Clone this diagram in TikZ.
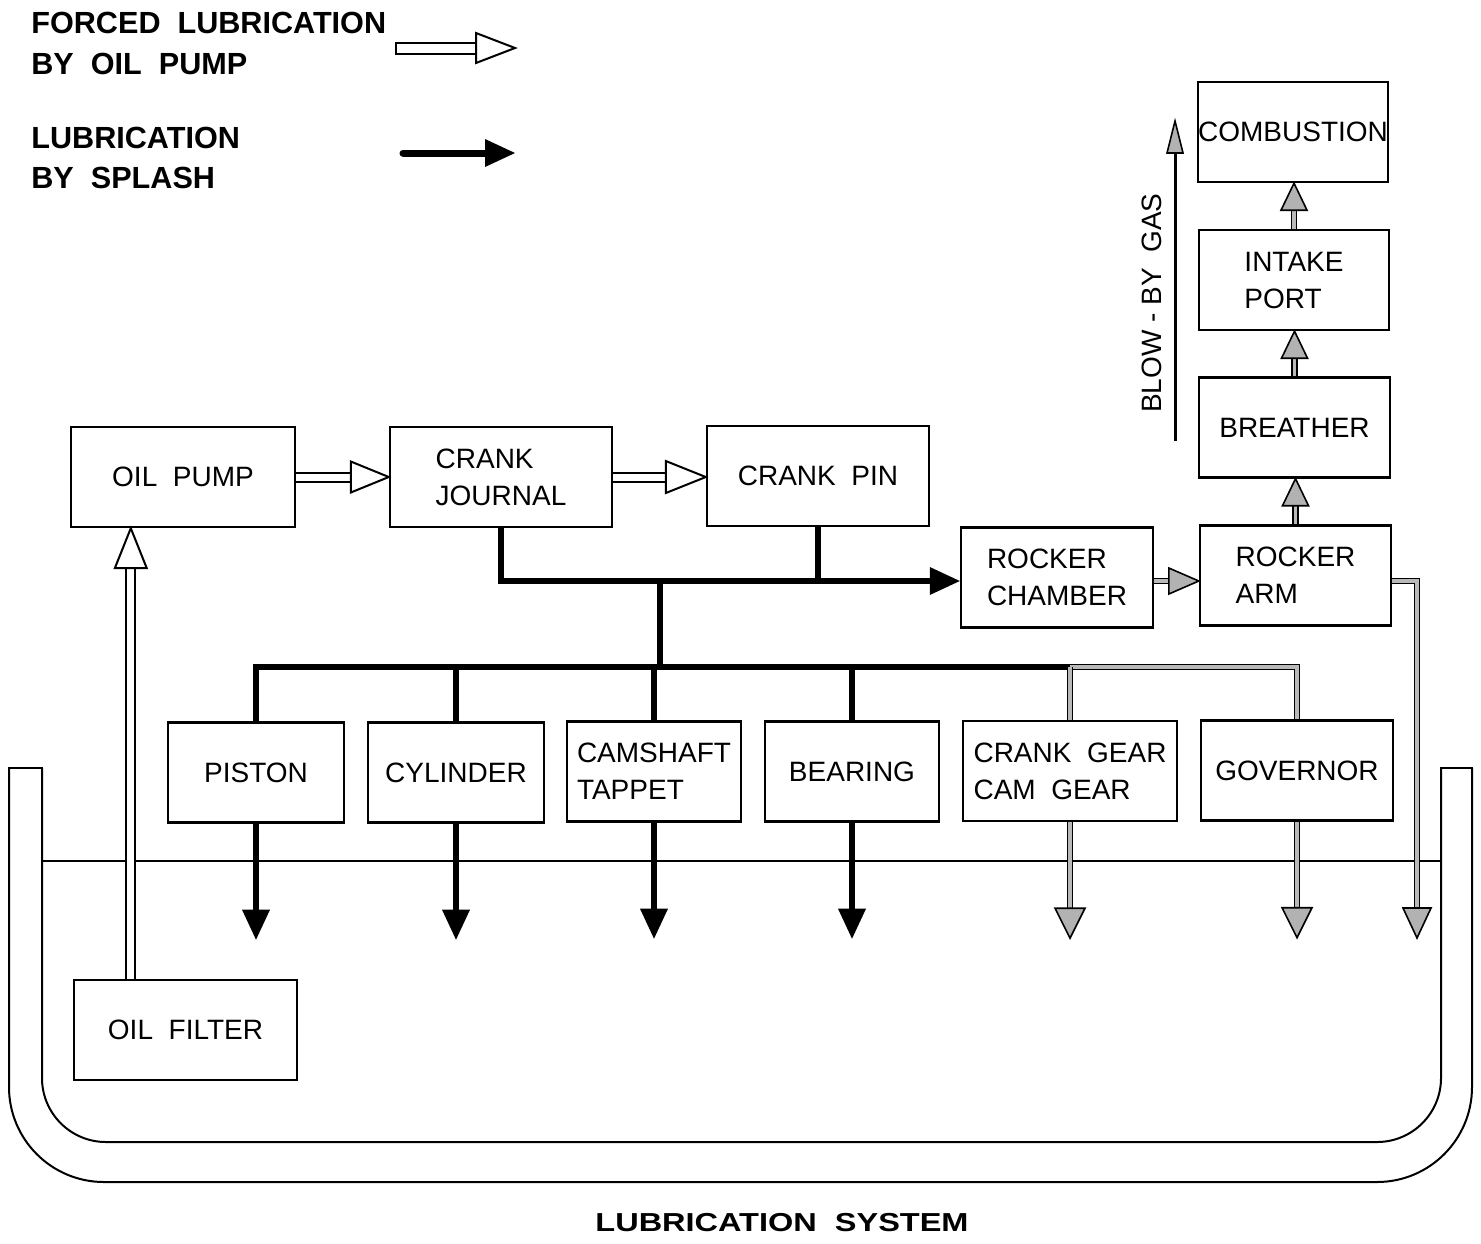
\documentclass[tikz,border=0pt]{standalone}
\usepackage{fontspec}
\setmainfont{Liberation Sans}
\usepackage{graphicx}
\usetikzlibrary{calc}
\newcommand\wsp{\hspace{0.556em}}
\newcommand\headR[4]{\path[#4] (#1) -- ++(-#2,#3) -- ++(0,-2*#3) -- cycle;}
\newcommand\headU[4]{\path[#4] (#1) -- ++(-#3,#2) -- ++(2*#3,0) -- cycle;}
\newcommand\headD[4]{\path[#4] (#1) -- ++(-#3,-#2) -- ++(2*#3,0) -- cycle;}
\begin{document}
\begin{tikzpicture}[x=0.5pt, y=-0.5pt,
  font=\fontsize{14pt}{18.5pt}\selectfont,
  box/.style={draw, line width=1.2pt, minimum height=50pt, inner sep=0pt, align=left, minimum width=#1*0.5pt},
  legendtext/.style={anchor=base west, inner sep=0pt, font=\fontsize{15.3pt}{18pt}\selectfont\bfseries},
  oilshaft/.style={draw, line width=1pt, double=white, double distance=3.5pt},
  greyline/.style={draw, line width=0.8pt, double=gray!55, double distance=1.6pt},
  splash/.style={draw, line width=3pt},
  openhead/.style={draw, fill=white, line width=1pt, line join=miter},
  greyhead/.style={draw, fill=gray!60, line width=0.8pt, line join=miter},
  blackhead/.style={fill=black},
  sump/.style={draw, line width=1pt}]
\useasboundingbox (0,0) rectangle (1481,1243);

% ---- legend ----
\node[legendtext] (lg1a) at (31,33) {FORCED\wsp LUBRICATION};
\node[legendtext] (lg1b) at (31,74) {BY\wsp OIL\wsp PUMP};
\node[legendtext] (lg2a) at (31,148) {LUBRICATION};
\node[legendtext] (lg2b) at (31,188) {BY\wsp SPLASH};
\coordinate (lgOa) at (396,48);
\coordinate (lgOb) at (515,48);
\draw[openhead] ($(lgOa)+(0,-5.5)$) rectangle ($(lgOb)+(-39,5.5)$);
\headR{lgOb}{39}{15}{openhead}
\coordinate (lgSa) at (403,153);
\coordinate (lgSb) at (515,153);
\draw[splash, line width=3.5pt, line cap=round] (lgSa) -- ($(lgSb)+(-28,0)$);
\headR{lgSb}{30}{14}{blackhead}

% ---- sump ----
\draw[sump, rounded corners=47.5pt] (9,768) -- (9,1182) -- (1472,1182) -- (1472,768);
\draw[sump, rounded corners=32pt] (42,768) -- (42,1142) -- (1441,1142) -- (1441,768);
\draw[sump, line cap=rect] (9,768) -- (42,768);
\draw[sump, line cap=rect] (1441,768) -- (1472,768);
\draw[sump] (42,861) -- (1441,861);

% ---- boxes ----
\node[box=224] (oilpump) at (183,477) {OIL\wsp PUMP};
\node[box=222] (crankj) at (501,477) {CRANK\\JOURNAL};
\node[box=222] (crankpin) at (818,476) {CRANK\wsp PIN};
\node[box=192] (rockerch) at (1057,577.5) {ROCKER\\CHAMBER};
\node[box=191] (rockerarm) at (1295.5,575.5) {ROCKER\\ARM};
\node[box=191] (breather) at (1294.5,427.5) {BREATHER};
\node[box=190] (intake) at (1294,280) {INTAKE\\PORT};
\node[box=190] (combustion) at (1293,132) {COMBUSTION};
\node[box=176] (piston) at (256,772.5) {PISTON};
\node[box=176] (cylinder) at (456,772.5) {CYLINDER};
\node[box=174] (camshaft) at (654,771.5) {CAMSHAFT\\TAPPET};
\node[box=174] (bearing) at (852,771.5) {BEARING};
\node[box=214] (crankgear) at (1070,771) {CRANK\wsp GEAR\\CAM\wsp GEAR};
\node[box=192] (governor) at (1297,770.5) {GOVERNOR};
\node[box=223] (oilfilter) at (185.5,1030) {OIL\wsp FILTER};

% ---- forced lubrication (open arrows) ----
\draw[oilshaft] (oilpump.east) -- ($(oilpump.east -| crankj.west)+(-37,0)$);
\headR{oilpump.east -| crankj.west}{38}{15.5}{openhead}
\draw[oilshaft] (crankj.east) -- ($(crankj.east -| crankpin.west)+(-39,0)$);
\headR{crankj.east -| crankpin.west}{40}{16}{openhead}
\coordinate (pipeB) at ($(oilfilter.north west)+(58,0)$);
\draw[oilshaft] (pipeB) -- ($(pipeB |- oilpump.south)+(0,39)$);
\headU{pipeB |- oilpump.south}{40}{16}{openhead}

% ---- splash (black arrows) ----
\coordinate (bus1) at (660,581);
\coordinate (bus2) at (660,667);
\draw[splash] (crankj.south) |- ($(rockerch.west |- bus1)+(-29,0)$);
\headR{rockerch.west |- bus1}{30}{14}{blackhead}
\draw[splash] (crankpin.south) -- (crankpin.south |- bus1);
\draw[splash] (bus1) -- (bus2);
\draw[splash, line cap=rect] (piston.north |- bus2) -- (crankgear.north |- bus2);
\foreach \n in {piston, cylinder, camshaft, bearing} {
  \draw[splash] (\n.north) -- (\n.north |- bus2);
  \draw[splash] (\n.south) -- ($(\n.south)+(0,88)$);
  \headD{$(\n.south)+(0,116)$}{30}{14}{blackhead}
}

% ---- grey arrows ----
\draw[greyline] (crankgear.north |- bus2) -| (governor.north);
\draw[greyline] (crankgear.north) -- (crankgear.north |- bus2);
\foreach \n in {crankgear, governor} {
  \draw[greyline] (\n.south) -- ($(\n.south)+(0,88)$);
  \headD{$(\n.south)+(0,116)$}{30}{15}{greyhead}
}
\draw[greyline] (rockerch.east |- bus1) -- ($(rockerarm.west |- bus1)+(-28,0)$);
\headR{rockerarm.west |- bus1}{30}{13}{greyhead}
\coordinate (drainR) at (1417,938);
\draw[greyline] (rockerarm.east |- bus1) -| ($(drainR)+(0,-28)$);
\headD{drainR}{30}{14}{greyhead}
\draw[greyline] (rockerarm.north) -- ($(rockerarm.north |- breather.south)+(0,25)$);
\headU{rockerarm.north |- breather.south}{27}{13}{greyhead}
\draw[greyline] (breather.north) -- ($(breather.north |- intake.south)+(0,25)$);
\headU{breather.north |- intake.south}{27}{13}{greyhead}
\draw[greyline] (intake.north) -- ($(intake.north |- combustion.south)+(0,25)$);
\headU{intake.north |- combustion.south}{27}{13}{greyhead}

% ---- blow-by gas ----
\coordinate (bbB) at (1175,441);
\coordinate (bbT) at (1175,121);
\draw[line width=1.5pt] (bbB) -- ($(bbT)+(0,30)$);
\headU{bbT}{32}{8}{greyhead}
\node[rotate=90, inner sep=0pt] (bbtext) at (1152,303) {BLOW - BY\wsp GAS};

% ---- title ----
\node[inner sep=0pt, font=\fontsize{13pt}{15pt}\selectfont\bfseries] (title) at (782,1223) {\scalebox{1.25}[1]{LUBRICATION\wsp SYSTEM}};
\end{tikzpicture}
\end{document}
